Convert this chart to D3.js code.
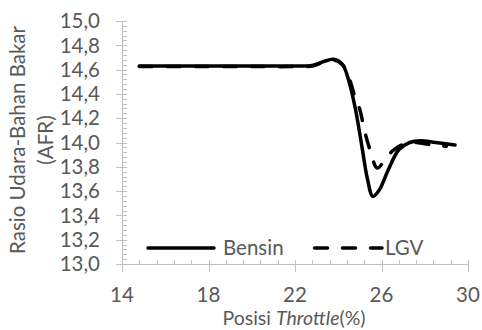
<!DOCTYPE html>
<html>
<head>
<meta charset="utf-8">
<script src="https://cdn.jsdelivr.net/npm/d3@7"></script>
<style>
html,body{margin:0;padding:0;background:#fff;}
svg{display:block;}
text{font-family:Lato,"Open Sans",sans-serif;fill:#595959;}
</style>
</head>
<body>
<svg id="chart" width="482" height="330"></svg>
<script>
// ---- data ----
const bensinX = [14.8, 16, 18, 20, 22, 22.8, 23.3, 23.8, 24.2, 24.5, 24.8, 25.1, 25.35, 25.6, 25.9, 26.3, 26.8, 27.3, 27.8, 28.5, 29.4];
const bensinY = [14.63, 14.63, 14.63, 14.63, 14.63, 14.635, 14.665, 14.685, 14.64, 14.5, 14.27, 13.96, 13.70, 13.556, 13.61, 13.77, 13.94, 14.0, 14.015, 14.0, 13.98];
const lgvX = [14.8, 16, 18, 20, 22, 22.8, 23.3, 23.8, 24.2, 24.5, 24.8, 25.0, 25.2, 25.45, 25.8, 26.1, 26.5, 27.0, 27.5, 28.0, 28.5, 29.0];
const lgvY = [14.625, 14.625, 14.625, 14.625, 14.625, 14.63, 14.66, 14.68, 14.64, 14.53, 14.36, 14.27, 14.11, 13.95, 13.79, 13.84, 13.93, 13.985, 14.0, 13.99, 13.975, 13.97];
const xTicks = [14, 18, 22, 26, 30];
const yTicks = [13.0, 13.2, 13.4, 13.6, 13.8, 14.0, 14.2, 14.4, 14.6, 14.8, 15.0];
const seriesNames = ["Bensin", "LGV"];
const xTitleParts = ["Posisi ", "Throttle", "(%)"];
const yTitleLines = ["Rasio Udara-Bahan Bakar", "(AFR)"];

// ---- layout ----
const svg = d3.select("#chart");
const x = d3.scaleLinear().domain([14, 30]).range([122, 468]);
const y = d3.scaleLinear().domain([13, 15]).range([264, 21]);
const axisColor = "#c0c0c0";
const fontSize = 20.5;
const capHalf = 7.2;
const fmt = v => d3.format(".1f")(v).replace(".", ",");

// minor ticks
const xMinor = d3.range(14, 30.001, 0.8);
const yMinor = d3.range(13, 15.001, 0.04);

const g = svg.append("g");
// y minor
g.selectAll(".ymin").data(yMinor).join("line")
  .attr("x1", x(14)).attr("x2", x(14) + 5)
  .attr("y1", d => Math.round(y(d)) + 0.5).attr("y2", d => Math.round(y(d)) + 0.5)
  .attr("stroke", axisColor).attr("stroke-width", 1);
// y major
g.selectAll(".ymaj").data(yTicks).join("line")
  .attr("x1", x(14) - 6).attr("x2", x(14) + 5)
  .attr("y1", d => Math.round(y(d)) + 0.5).attr("y2", d => Math.round(y(d)) + 0.5)
  .attr("stroke", axisColor).attr("stroke-width", 1);
// x minor
g.selectAll(".xmin").data(xMinor).join("line")
  .attr("x1", d => Math.round(x(d)) + 0.5).attr("x2", d => Math.round(x(d)) + 0.5)
  .attr("y1", y(13) - 4).attr("y2", y(13))
  .attr("stroke", axisColor).attr("stroke-width", 1);
// x major
g.selectAll(".xmaj").data(xTicks).join("line")
  .attr("x1", d => Math.round(x(d)) + 0.5).attr("x2", d => Math.round(x(d)) + 0.5)
  .attr("y1", y(13) - 4).attr("y2", y(13) + 8)
  .attr("stroke", axisColor).attr("stroke-width", 1);
// axis lines
g.append("line").attr("x1", Math.round(x(14)) + 0.5).attr("x2", Math.round(x(14)) + 0.5)
  .attr("y1", y(15)).attr("y2", y(13)).attr("stroke", axisColor);
g.append("line").attr("x1", x(14)).attr("x2", x(30))
  .attr("y1", Math.round(y(13)) + 0.5).attr("y2", Math.round(y(13)) + 0.5).attr("stroke", axisColor);

// tick labels
g.selectAll(".ylab").data(yTicks).join("text")
  .attr("x", 100).attr("y", d => y(d) + capHalf)
  .attr("text-anchor", "end").attr("font-size", fontSize).text(fmt);
g.selectAll(".xlab").data(xTicks).join("text")
  .attr("x", d => x(d)).attr("y", 302)
  .attr("text-anchor", "middle").attr("font-size", fontSize).text(d => d);

// axis titles
const xt = g.append("text").attr("x", 294).attr("y", 325.3)
  .attr("text-anchor", "middle").attr("font-size", 19.5);
xTitleParts.forEach((p, i) => xt.append("tspan").attr("font-style", i === 1 ? "italic" : "normal").text(p));
g.selectAll(".ytitle").data(yTitleLines).join("text")
  .attr("transform", (d, i) => `translate(${24.5 + i * 28.5},140) rotate(-90)`)
  .attr("text-anchor", "middle").attr("font-size", fontSize).text(d => d);

// series
const line = d3.line().x(d => x(d[0])).y(d => y(d[1])).curve(d3.curveCatmullRom.alpha(0.5));
const bensin = bensinX.map((v, i) => [v, bensinY[i]]);
const lgv = lgvX.map((v, i) => [v, lgvY[i]]);
svg.append("path").datum(bensin).attr("d", line)
  .attr("fill", "none").attr("stroke", "#000").attr("stroke-width", 3.5).attr("stroke-linejoin", "round").attr("stroke-linecap", "round");
svg.append("path").datum(lgv).attr("d", line)
  .attr("fill", "none").attr("stroke", "#000").attr("stroke-width", 3.5)
  .attr("stroke-dasharray", "13,15").attr("stroke-linecap", "round");

// legend
const leg = svg.append("g");
leg.append("line").attr("x1", 148).attr("x2", 214).attr("y1", 248).attr("y2", 248)
  .attr("stroke", "#000").attr("stroke-width", 3.5).attr("stroke-linecap", "round");
leg.append("text").attr("x", 223).attr("y", 255.3).attr("font-size", fontSize).text(seriesNames[0]);
leg.append("line").attr("x1", 314.5).attr("x2", 382).attr("y1", 248).attr("y2", 248)
  .attr("stroke", "#000").attr("stroke-width", 3.5).attr("stroke-dasharray", "13,15").attr("stroke-linecap", "round");
leg.append("text").attr("x", 385).attr("y", 255.3).attr("font-size", fontSize).text(seriesNames[1]);
</script>
</body>
</html>
